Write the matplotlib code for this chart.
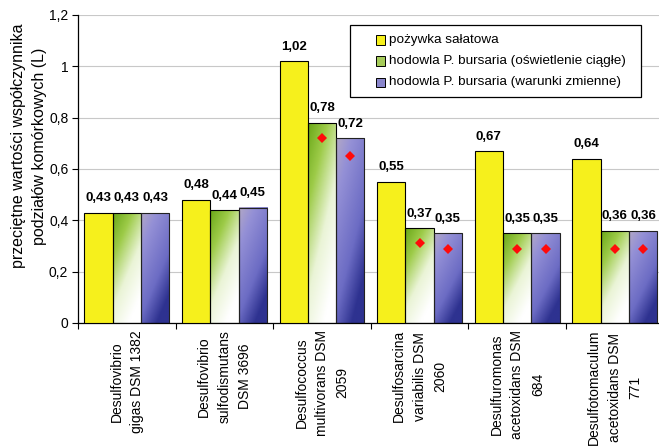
import numpy as np
import matplotlib
matplotlib.use("Agg")
import matplotlib.pyplot as plt
from matplotlib.colors import LinearSegmentedColormap
from matplotlib.patches import Rectangle

plt.rcParams['font.family'] = ['Liberation Sans', 'DejaVu Sans']

categories = [
    "Desulfovibrio\ngigas DSM 1382",
    "Desulfovibrio\nsulfodismutans\nDSM 3696",
    "Desulfococcus\nmultivorans DSM\n2059",
    "Desulfosarcina\nvariabilis DSM\n2060",
    "Desulfuromonas\nacetoxidans DSM\n684",
    "Desulfotomaculum\nacetoxidans DSM\n771",
]
series_names = [
    "pożywka sałatowa",
    "hodowla P. bursaria (oświetlenie ciągłe)",
    "hodowla P. bursaria (warunki zmienne)",
]
pozywka = [0.43, 0.48, 1.02, 0.55, 0.67, 0.64]
ciagle = [0.43, 0.44, 0.78, 0.37, 0.35, 0.36]
zmienne = [0.43, 0.45, 0.72, 0.35, 0.35, 0.36]
# comparison points shown as red diamonds on the culture bars
ciagle_pts = [np.nan, np.nan, 0.72, 0.31, 0.29, 0.29]
zmienne_pts = [np.nan, np.nan, 0.65, 0.29, 0.29, 0.29]
yticks = [0, 0.2, 0.4, 0.6, 0.8, 1.0, 1.2]
ytick_labels = ["0", "0,2", "0,4", "0,6", "0,8", "1", "1,2"]

YELLOW = "#f6f01c"
W, H = 659, 446
fig = plt.figure(figsize=(W / 100, H / 100), dpi=100)
ax = fig.add_axes([78 / W, (H - 323) / H, 585.6 / W, 308 / H])

n = len(categories)
x = np.arange(n)
bw = 0.29
offsets = [-bw, 0, bw]

green_cmap = LinearSegmentedColormap.from_list(
    "green_fade", [(0.0, "#6aa818"), (0.3, "#9dcb48"), (0.65, "#eaf4d6"), (1.0, "#ffffff")])
blue_cmap = LinearSegmentedColormap.from_list(
    "blue_fade", [(0.0, "#b2a8c6"), (0.25, "#9490d6"), (0.7, "#6c6cc4"), (1.0, "#2e3290")])


def gradient_fill(bar, cmap):
    x0, y0 = bar.get_x(), bar.get_y()
    w, h = bar.get_width(), bar.get_height()
    ny, nx = 120, 40
    u = np.linspace(0, 1, nx)[None, :]
    v = np.linspace(1, 0, ny)[:, None]  # row 0 is the top of the bar
    t = np.clip(0.45 * u + 0.75 * (1 - v), 0, 1)
    img = cmap(t)
    im = ax.imshow(img, extent=(x0, x0 + w, y0, y0 + h), origin="upper",
                   aspect="auto", zorder=2, interpolation="bilinear")
    im.set_clip_path(bar)


ax.bar(x + offsets[0], pozywka, bw, color=YELLOW, edgecolor="black",
       linewidth=0.8, zorder=3)
bars_g = ax.bar(x + offsets[1], ciagle, bw, facecolor="none", edgecolor="black",
                linewidth=0.8, zorder=3)
bars_b = ax.bar(x + offsets[2], zmienne, bw, facecolor="none", edgecolor="#222222",
                linewidth=0.8, zorder=3)
for b in bars_g:
    gradient_fill(b, green_cmap)
for b in bars_b:
    gradient_fill(b, blue_cmap)

ax.plot(x + offsets[1], ciagle_pts, linestyle="none", marker="D", markersize=5.5,
        color="#ff0a0a", markeredgewidth=0, zorder=4)
ax.plot(x + offsets[2], zmienne_pts, linestyle="none", marker="D", markersize=5.5,
        color="#ff0a0a", markeredgewidth=0, zorder=4)

for vals, off in zip([pozywka, ciagle, zmienne], offsets):
    for xi, v in zip(x, vals):
        ax.annotate(f"{v:.2f}".replace(".", ","), (xi + off, v), xytext=(0, 6),
                    textcoords="offset points", ha="center", va="bottom",
                    fontsize=9.5, fontweight="bold", zorder=5)

ax.set_xlim(-0.5, n - 0.5)
ax.set_ylim(0, 1.2)
ax.set_yticks(yticks)
ax.set_yticklabels(ytick_labels, fontsize=10)
ax.yaxis.grid(True, color="#c8c8c8", linewidth=0.8)
ax.set_axisbelow(True)

ax.set_xticks(np.arange(n + 1) - 0.5)
ax.set_xticklabels([])
ax.set_xticks(x, minor=True)
ax.set_xticklabels(categories, minor=True, rotation=90, fontsize=10,
                   multialignment="center", va="top", ha="center", linespacing=1.6)
ax.tick_params(axis="x", which="major", direction="out", length=4, width=0.8)
ax.tick_params(axis="x", which="minor", length=0, pad=5)
ax.tick_params(axis="y", direction="out", length=4, width=0.8, pad=3)

for side in ("top", "right"):
    ax.spines[side].set_visible(False)
for side in ("left", "bottom"):
    ax.spines[side].set_linewidth(0.9)

# axis title, placed in figure pixels
fig.text(29 / W, 1 - 146 / H,
         "przeciętne wartości współczynnika\npodziałów komórkowych (L)",
         rotation=90, ha="center", va="center", multialignment="center",
         fontsize=11.5, linespacing=1.45)

# legend box drawn in figure pixel coordinates
def fx(px):
    return px / W


def fy(py):
    return 1 - py / H


fig.patches.append(Rectangle((fx(350), fy(97)), fx(641) - fx(350), fy(25) - fy(97),
                             transform=fig.transFigure, facecolor="white",
                             edgecolor="black", linewidth=0.9, zorder=10))
legend_faces = [YELLOW, "#a6cc5a", "#8a86cc"]
row_y = [40, 61, 82]
for face, name, ry in zip(legend_faces, series_names, row_y):
    fig.patches.append(Rectangle((fx(376), fy(ry + 4.5)), fx(385) - fx(376),
                                 fy(ry - 4.5) - fy(ry + 4.5), transform=fig.transFigure,
                                 facecolor=face, edgecolor="black", linewidth=0.7,
                                 zorder=11))
    fig.text(fx(389), fy(ry), name, ha="left", va="center", fontsize=9.7, zorder=12)

fig.savefig("out.png", dpi=100)
